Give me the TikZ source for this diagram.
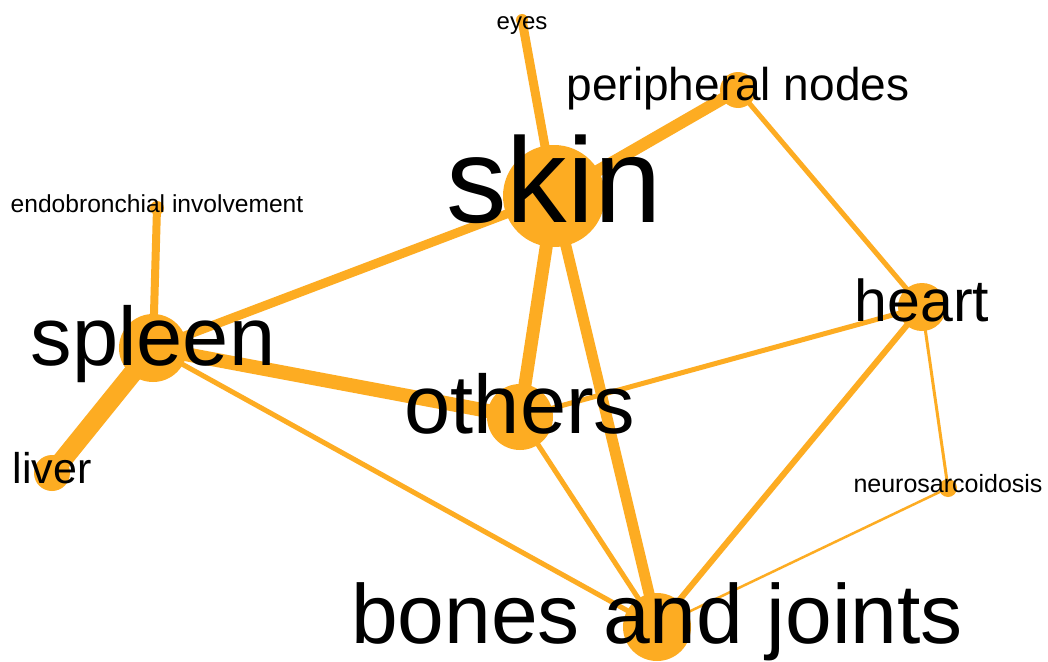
\documentclass[tikz,border=0pt]{standalone}
\usepackage{fontspec}
\setmainfont{Liberation Sans}
\usetikzlibrary{positioning}
\definecolor{amber}{HTML}{FDAC22}
\definecolor{ink}{HTML}{000000}
\newcommand{\lblsize}[1]{\fontsize{#1}{#1}\selectfont}
\tikzset{
  spot/.style={circle,fill=amber,inner sep=0pt,minimum size=#1},
  link/.style={amber,line width=#1},
  lbl/.style={ink,anchor=base,inner sep=0pt},
}

\begin{document}
\begin{tikzpicture}[x=1pt,y=-1pt]
  \fill[white](0,0)rectangle(1048,661);

  % Sites (circle size ~ frequency)
  \node[spot=102pt](skin)at(554,196){};
  \node[spot=12pt](eyes)at(522,20){};
  \node[spot=36pt](periph)at(738,90){};
  \node[spot=14pt](endo)at(157,208){};
  \node[spot=68pt](spleen)at(153,348){};
  \node[spot=36pt](liver)at(52,473){};
  \node[spot=66pt](others)at(520,417){};
  \node[spot=48pt](heart)at(922,307){};
  \node[spot=18pt](neuro)at(948,488){};
  \node[spot=68pt](bones)at(657,627){};

  % Links (width ~ co-occurrence)
  \draw[link=9pt](skin.center)--(eyes.center);
  \draw[link=12pt](skin.center)--(periph.center);
  \draw[link=9pt](skin.center)--(spleen.center);
  \draw[link=13pt](skin.center)--(others.center);
  \draw[link=11pt](skin.center)--(bones.center);
  \draw[link=8pt](spleen.center)--(endo.center);
  \draw[link=19pt](spleen.center)--(liver.center);
  \draw[link=14pt](spleen.center)--(others.center);
  \draw[link=5pt](spleen.center)--(bones.center);
  \draw[link=5pt](others.center)--(heart.center);
  \draw[link=5pt](others.center)--(bones.center);
  \draw[link=5pt](periph.center)--(heart.center);
  \draw[link=6pt](heart.center)--(bones.center);
  \draw[link=3pt](heart.center)--(neuro.center);
  \draw[link=2.5pt](neuro.center)--(bones.center);

  % Labels
  \node[lbl,font={\lblsize{121}}]at([yshift=-26pt]skin.center){skin};
  \node[lbl,font={\lblsize{24}}]at([yshift=-10pt]eyes.center){eyes};
  \node[lbl,font={\lblsize{46}}]at([yshift=-10pt]periph.center){peripheral nodes};
  \node[lbl,font={\lblsize{24.6}}]at([yshift=-4pt]endo.center){endobronchial involvement};
  \node[lbl,font={\lblsize{83}}]at([yshift=-17pt]spleen.center){spleen};
  \node[lbl,font={\lblsize{43}}]at([yshift=-10pt]liver.center){liver};
  \node[lbl,font={\lblsize{83}}]at([yshift=-16pt]others.center){others};
  \node[lbl,font={\lblsize{59}}]at([yshift=-14pt]heart.center){heart};
  \node[lbl,font={\lblsize{25}}]at([yshift=-4pt]neuro.center){neurosarcoidosis};
  \node[lbl,font={\lblsize{84}}]at([yshift=-16pt]bones.center){bones and joints};
\end{tikzpicture}
\end{document}
